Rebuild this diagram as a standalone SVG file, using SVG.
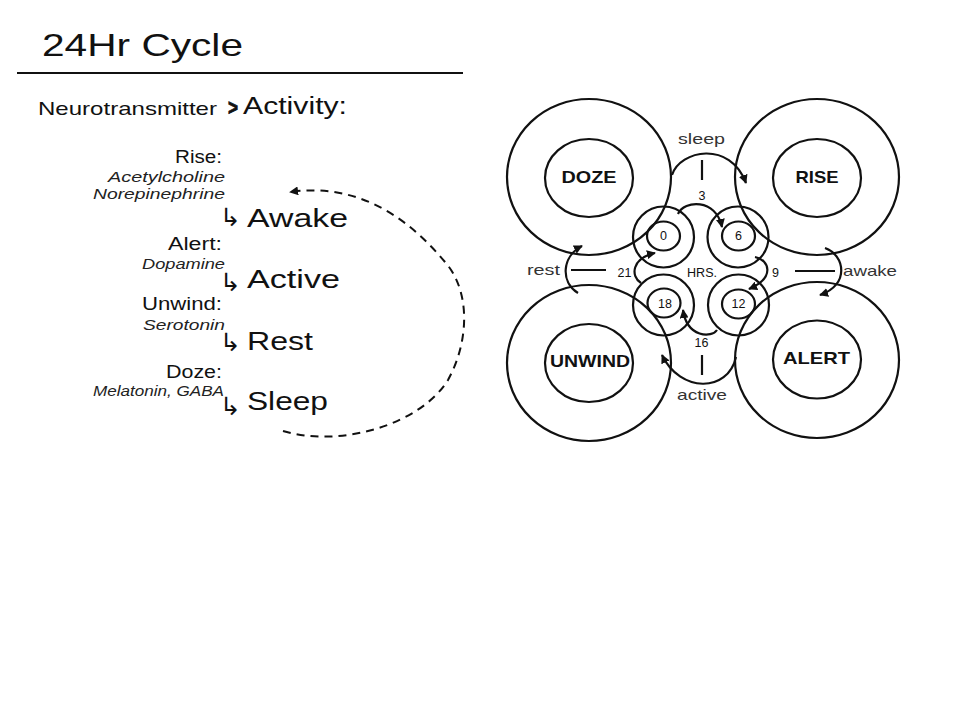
<svg xmlns="http://www.w3.org/2000/svg" width="960" height="720" viewBox="0 0 960 720">
<style>
.t{font-family:"Liberation Sans","DejaVu Sans",sans-serif;fill:#111;}
.it{font-family:"Liberation Sans","DejaVu Sans",sans-serif;font-style:italic;fill:#222;font-size:15px;}
.hd{font-size:18px;}
.big{font-size:25px;}
.arr{font-family:"DejaVu Sans",sans-serif;font-size:25px;fill:#111;}
.lbl{font-size:15px;fill:#333;}
.num{font-size:12.5px;}
.nm{font-family:"Liberation Sans","DejaVu Sans",sans-serif;font-weight:bold;font-size:17px;fill:#111;}
.ring{fill:none;stroke:#111;stroke-width:2.2;}
.con{fill:none;stroke:#111;stroke-width:2.2;}
</style>
<defs>
<marker id="ah" viewBox="0 0 10 10" refX="9" refY="5" markerWidth="9" markerHeight="9" markerUnits="userSpaceOnUse" orient="auto">
<path d="M0,0 L10,5 L0,10 z" fill="#111"/>
</marker>
</defs>
<rect width="960" height="720" fill="#fff"/>

<g id="header">
<text class="t" x="42" y="56" font-size="32" textLength="201" lengthAdjust="spacingAndGlyphs">24Hr Cycle</text>
<line x1="17" y1="73" x2="463" y2="73" stroke="#111" stroke-width="2"/>
<text class="t" x="38" y="115" font-size="19" textLength="179" lengthAdjust="spacingAndGlyphs">Neurotransmitter</text>
<text class="t" x="228" y="115" font-size="22" font-weight="900" stroke="#111" stroke-width="0.8" textLength="10" lengthAdjust="spacingAndGlyphs">&gt;</text>
<text class="t" x="243" y="114" font-size="23" textLength="104" lengthAdjust="spacingAndGlyphs">Activity:</text>
</g>

<g id="legend">
<text class="t hd" x="222" y="163" text-anchor="end" textLength="47" lengthAdjust="spacingAndGlyphs">Rise:</text>
<text class="it" x="225" y="182" text-anchor="end" textLength="117" lengthAdjust="spacingAndGlyphs">Acetylcholine</text>
<text class="it" x="225" y="199" text-anchor="end" textLength="132" lengthAdjust="spacingAndGlyphs">Norepinephrine</text>
<text class="arr" x="220" y="225.5">↳</text>
<text class="t big" x="247" y="227" textLength="101" lengthAdjust="spacingAndGlyphs">Awake</text>

<text class="t hd" x="222" y="250" text-anchor="end" textLength="54" lengthAdjust="spacingAndGlyphs">Alert:</text>
<text class="it" x="225" y="269" text-anchor="end" textLength="83" lengthAdjust="spacingAndGlyphs">Dopamine</text>
<text class="arr" x="220" y="290.5">↳</text>
<text class="t big" x="247" y="288" textLength="93" lengthAdjust="spacingAndGlyphs">Active</text>

<text class="t hd" x="222" y="310" text-anchor="end" textLength="80" lengthAdjust="spacingAndGlyphs">Unwind:</text>
<text class="it" x="225" y="330" text-anchor="end" textLength="82" lengthAdjust="spacingAndGlyphs">Serotonin</text>
<text class="arr" x="220" y="350.5">↳</text>
<text class="t big" x="247" y="350" textLength="66" lengthAdjust="spacingAndGlyphs">Rest</text>

<text class="t hd" x="222" y="378" text-anchor="end" textLength="56" lengthAdjust="spacingAndGlyphs">Doze:</text>
<text class="it" x="224" y="396" text-anchor="end" textLength="131" lengthAdjust="spacingAndGlyphs">Melatonin, GABA</text>
<text class="arr" x="220" y="415">↳</text>
<text class="t big" x="247" y="410" textLength="81" lengthAdjust="spacingAndGlyphs">Sleep</text>

<path d="M 283 431 C 340 448, 420 425, 448 380 C 470 340, 470 290, 445 262 C 410 220, 360 182, 290 192" fill="none" stroke="#111" stroke-width="2" stroke-dasharray="8 6" marker-end="url(#ah)"/>
</g>

<g id="node-doze">
<ellipse class="ring" cx="589" cy="177" rx="82" ry="78"/>
<ellipse class="ring" cx="589" cy="178" rx="44" ry="39"/>
<text class="nm" x="589" y="183" text-anchor="middle" textLength="55" lengthAdjust="spacingAndGlyphs">DOZE</text>
</g>
<g id="node-rise">
<ellipse class="ring" cx="817" cy="177" rx="82" ry="78"/>
<ellipse class="ring" cx="817" cy="178" rx="44" ry="39"/>
<text class="nm" x="817" y="183" text-anchor="middle" textLength="43" lengthAdjust="spacingAndGlyphs">RISE</text>
</g>
<g id="node-unwind">
<ellipse class="ring" cx="589" cy="363" rx="82" ry="78"/>
<ellipse class="ring" cx="589" cy="363" rx="44" ry="39"/>
<text class="nm" x="590" y="367" text-anchor="middle" textLength="80" lengthAdjust="spacingAndGlyphs">UNWIND</text>
</g>
<g id="node-alert">
<ellipse class="ring" cx="817" cy="360" rx="82" ry="78"/>
<ellipse class="ring" cx="817" cy="359.5" rx="44" ry="39"/>
<text class="nm" x="816.5" y="364" text-anchor="middle" textLength="67" lengthAdjust="spacingAndGlyphs">ALERT</text>
</g>

<g id="node-h0">
<circle class="ring" cx="663.5" cy="237" r="30.5"/>
<ellipse class="ring" cx="663.5" cy="236" rx="16.5" ry="14.5"/>
<text class="t num" x="663.5" y="240" text-anchor="middle">0</text>
</g>
<g id="node-h6">
<circle class="ring" cx="738" cy="237" r="30.5"/>
<ellipse class="ring" cx="738.5" cy="236" rx="16.5" ry="14.5"/>
<text class="t num" x="738.5" y="240" text-anchor="middle">6</text>
</g>
<g id="node-h18">
<circle class="ring" cx="663.5" cy="305" r="30.5"/>
<ellipse class="ring" cx="664" cy="303" rx="16.5" ry="14.5"/>
<text class="t num" x="665" y="307.5" text-anchor="middle">18</text>
</g>
<g id="node-h12">
<circle class="ring" cx="738.5" cy="305" r="30.5"/>
<ellipse class="ring" cx="738.5" cy="304" rx="16.5" ry="14.5"/>
<text class="t num" x="738.5" y="308" text-anchor="middle">12</text>
</g>

<g id="connectors">
<path class="con" d="M 678 214 C 684 200, 716 198, 722 227" marker-end="url(#ah)"/>
<path class="con" d="M 755 257 C 770 260, 775 278, 749 289" marker-end="url(#ah)"/>
<path class="con" d="M 717 330 C 712 338, 687 338, 683 310" marker-end="url(#ah)"/>
<path class="con" d="M 641 283 C 630 276, 632 258, 655 253" marker-end="url(#ah)"/>

<path class="con" d="M 672 175 C 680 150, 730 140, 746 183" marker-end="url(#ah)"/>
<path class="con" d="M 825 248 C 845 255, 850 285, 820 295" marker-end="url(#ah)"/>
<path class="con" d="M 736 357 C 728 393, 680 393, 662 355" marker-end="url(#ah)"/>
<path class="con" d="M 578 293 C 560 282, 562 256, 582 246" marker-end="url(#ah)"/>

<line class="con" x1="702" y1="160" x2="702" y2="180"/>
<line class="con" x1="702" y1="355" x2="702" y2="375"/>
<line class="con" x1="571" y1="270" x2="606" y2="270"/>
<line class="con" x1="795" y1="271" x2="835" y2="271"/>
</g>

<g id="labels">
<text class="t lbl" x="701.5" y="144" text-anchor="middle" textLength="47" lengthAdjust="spacingAndGlyphs">sleep</text>
<text class="t lbl" x="843" y="276" textLength="54" lengthAdjust="spacingAndGlyphs">awake</text>
<text class="t lbl" x="702" y="400" text-anchor="middle" textLength="50" lengthAdjust="spacingAndGlyphs">active</text>
<text class="t lbl" x="527" y="275" textLength="33" lengthAdjust="spacingAndGlyphs">rest</text>
<text class="t num" x="702" y="200" text-anchor="middle">3</text>
<text class="t num" x="775.5" y="277" text-anchor="middle">9</text>
<text class="t num" x="701.5" y="347" text-anchor="middle">16</text>
<text class="t num" x="624.5" y="277" text-anchor="middle">21</text>
<text class="t" x="702" y="277" font-size="12" text-anchor="middle" textLength="30" lengthAdjust="spacingAndGlyphs">HRS.</text>
</g>
</svg>
